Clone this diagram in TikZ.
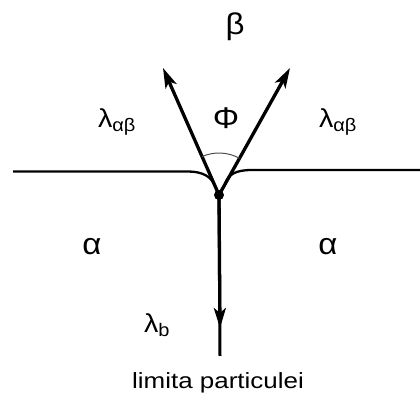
\documentclass[tikz,border=0pt]{standalone}
\usepackage{fontspec}
\setmainfont{Liberation Sans}
\usetikzlibrary{arrows.meta}
\begin{document}
\begin{tikzpicture}[x=1pt, y=1pt,
  lbl/.style={font=\fontsize{22}{26}\selectfont, xscale=1.18, inner sep=0pt},
  gr/.style={font=\fontsize{30}{34}\selectfont, xscale=1.1, inner sep=0pt},
  lam/.style={font=\fontsize{26}{30}\selectfont, xscale=1.1, inner sep=0pt},
  fase/.style={line width=2.3pt},
  vec/.style={line width=3.3pt, -{Stealth[length=20pt, width=12pt, inset=5pt]}},
  unghi/.style={line width=1pt, black!70},
]
  \useasboundingbox (0,0) rectangle (420,398);
  % punctul triplu si varfurile vectorilor de tensiune
  \coordinate (j) at (219,203);
  \coordinate (ta) at (163,330);
  \coordinate (tb) at (290,330);
  \coordinate (tc) at (220,70);
  \coordinate (jos) at (220,42);

  % limitele alfa/beta, curbate spre punctul triplu
  \draw[fase] (13,226.5) -- (188,226.5) .. controls (203,226.5) and (211,221) .. (214.6,213);
  \draw[fase] (420,228) -- (252,228) .. controls (236,228) and (228,224) .. (224.6,213);

  \draw[vec] (j) -- (ta);
  \draw[vec] (j) -- (tb);
  \draw[line width=3pt] (j) -- (jos);
  \draw[vec] (j) -- (tc);
  \fill (j) circle (5);

  \draw[unghi] (j) ++(113.8:42) arc[start angle=113.8, end angle=60.8, radius=42];

  \node[gr] (beta) at (235,371) {β};
  \node[gr] (phi) at (226,280) {Φ};
  \node[lam] (lst) at (117,276) {λ\textsubscript{αβ}};
  \node[lam] (ldr) at (338,276) {λ\textsubscript{αβ}};
  \node[gr] (ast) at (92,151) {α};
  \node[gr] (adr) at (328,151) {α};
  \node[lam] (lb) at (157,73) {λ\textsubscript{b}};
  \node[lbl] (lim) at (218,15) {limita particulei};
\end{tikzpicture}
\end{document}
